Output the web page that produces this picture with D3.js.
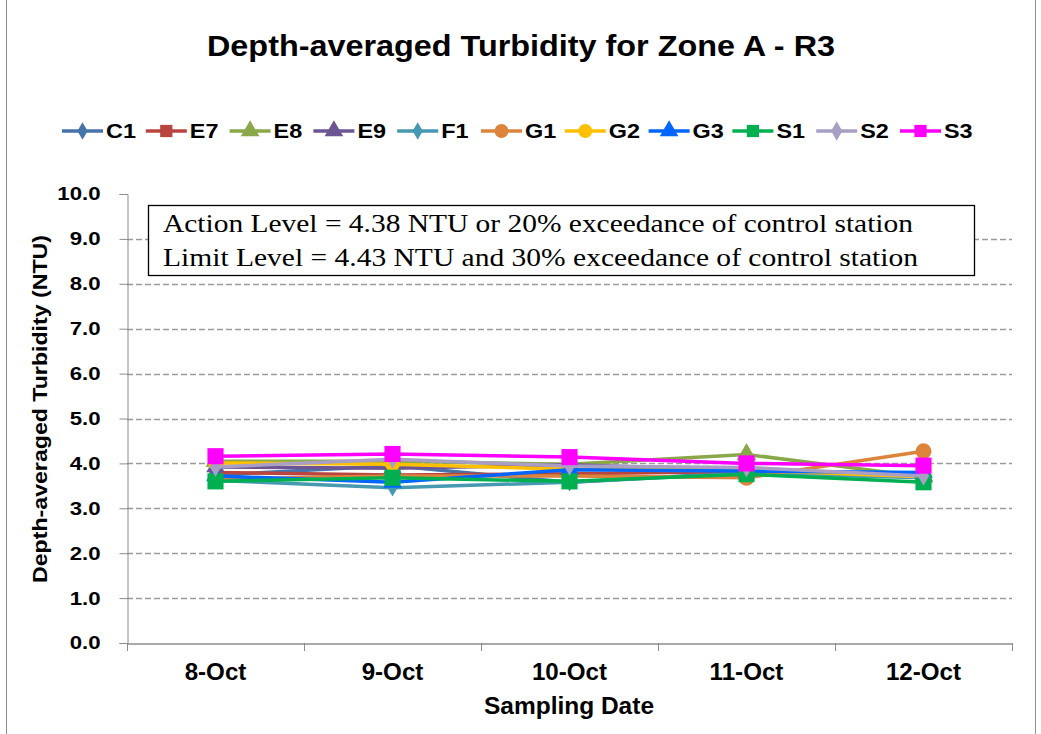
<!DOCTYPE html>
<html>
<head>
<meta charset="utf-8">
<script src="https://cdn.jsdelivr.net/npm/d3@7"></script>
<style>
  body { margin: 0; background: #fff; }
  svg { display: block; }
</style>
</head>
<body>
<div id="chart"></div>
<script>
// values
const dates = ['8-Oct', '9-Oct', '10-Oct', '11-Oct', '12-Oct'];
const stations = ['C1', 'E7', 'E8', 'E9', 'F1', 'G1', 'G2', 'G3', 'S1', 'S2', 'S3'];
const C1 = [3.74, 3.95, 3.58, 3.80, 3.75];
const E7 = [3.80, 3.74, 3.77, 3.82, 3.73];
const E8 = [4.05, 4.05, 3.98, 4.20, 3.70];
const E9 = [3.92, 3.89, 3.97, 3.85, 3.72];
const F1 = [3.62, 3.46, 3.58, 3.78, 3.68];
const G1 = [3.65, 3.72, 3.72, 3.68, 4.27];
const G2 = [4.01, 3.98, 3.87, 3.85, 3.70];
const G3 = [3.72, 3.58, 3.86, 3.83, 3.80];
const S1 = [3.60, 3.68, 3.60, 3.76, 3.58];
const S2 = [3.92, 4.09, 3.94, 3.91, 3.72];
const S3 = [4.16, 4.21, 4.14, 4.00, 3.95];
const yTicks = [0, 1, 2, 3, 4, 5, 6, 7, 8, 9, 10];
const notes = ['Action Level = 4.38 NTU or 20% exceedance of control station',
               'Limit Level = 4.43 NTU and 30% exceedance of control station'];

const values = { C1, E7, E8, E9, F1, G1, G2, G3, S1, S2, S3 };
const colors = {
  C1: '#4673a9', E7: '#b8463f', E8: '#8aa84a', E9: '#6d5594', F1: '#4599b0',
  G1: '#dc843c', G2: '#ffc000', G3: '#0066ff', S1: '#00b050', S2: '#a99fc5', S3: '#ff00ff'
};
const shapes = {
  C1: 'diamond', E7: 'square', E8: 'triangle', E9: 'triangle', F1: 'diamond',
  G1: 'circle', G2: 'circle', G3: 'triangle', S1: 'square', S2: 'diamond', S3: 'square'
};
const sizes = {
  C1: 90, E7: 150, E8: 170, E9: 150, F1: 90, G1: 200, G2: 170, G3: 150, S1: 260, S2: 110, S3: 260
};
const symbolType = {
  diamond: d3.symbolDiamond, square: d3.symbolSquare,
  triangle: d3.symbolTriangle, circle: d3.symbolCircle
};

const width = 1041, height = 734;
const plot = { left: 127, right: 1012, top: 194, bottom: 643 };
const sans = 'Liberation Sans, Arial, sans-serif';

// the reference text is drawn a bit wider than the font, so stretch it
function stretch(sel, k) {
  sel.each(function () {
    const w = this.getComputedTextLength();
    d3.select(this).attr('textLength', w * k).attr('lengthAdjust', 'spacingAndGlyphs');
  });
}

const svg = d3.select('#chart').append('svg')
  .attr('width', width)
  .attr('height', height)
  .style('font-family', sans);

// outer chart frame
svg.append('rect')
  .attr('x', 6.5).attr('y', -2).attr('width', 1029).attr('height', height + 4)
  .attr('fill', 'none').attr('stroke', '#8c8c8c').attr('stroke-width', 1);

svg.append('text')
  .attr('x', 521).attr('y', 56)
  .attr('text-anchor', 'middle')
  .attr('font-size', 29).attr('font-weight', 'bold')
  .attr('textLength', 628).attr('lengthAdjust', 'spacingAndGlyphs')
  .text('Depth-averaged  Turbidity for Zone A - R3');

const x = d3.scaleBand().domain(dates).range([plot.left, plot.right]);
const y = d3.scaleLinear().domain([0, 10]).range([plot.bottom, plot.top]);

// gridlines
svg.append('g')
  .selectAll('line')
  .data(yTicks.filter(t => t > 0 && t < 10))
  .join('line')
  .attr('x1', plot.left).attr('x2', plot.right)
  .attr('y1', d => Math.round(y(d)) + 0.5).attr('y2', d => Math.round(y(d)) + 0.5)
  .attr('stroke', '#9a9a9a').attr('stroke-width', 1.3)
  .attr('stroke-dasharray', '6,3');

// y axis
const yAxis = svg.append('g')
  .attr('transform', `translate(${plot.left + 0.5},0)`)
  .call(d3.axisLeft(y).tickValues(yTicks).tickFormat(d3.format('.1f')).tickSize(8).tickPadding(19));
yAxis.select('.domain').attr('stroke', '#8c8c8c');
yAxis.selectAll('.tick line').attr('stroke', '#8c8c8c');
yAxis.selectAll('text')
  .attr('font-size', 18.5).attr('font-weight', 'bold')
  .attr('font-family', sans).attr('fill', '#000')
  .call(stretch, 1.2);

// x axis
const xAxis = svg.append('g')
  .attr('transform', `translate(0,${plot.bottom + 0.5})`)
  .call(d3.axisBottom(x).tickSize(0).tickPadding(20));
xAxis.select('.domain').attr('stroke', '#8c8c8c').attr('stroke-width', 1.3);
xAxis.selectAll('text')
  .attr('font-size', 23).attr('font-weight', 'bold')
  .attr('font-family', sans).attr('fill', '#000')
  .call(stretch, 1.05);
svg.append('g')
  .selectAll('line')
  .data(dates.concat(['end']))
  .join('line')
  .attr('x1', (d, i) => Math.round(plot.left + i * x.bandwidth()) + 0.5)
  .attr('x2', (d, i) => Math.round(plot.left + i * x.bandwidth()) + 0.5)
  .attr('y1', plot.bottom).attr('y2', plot.bottom + 8)
  .attr('stroke', '#8c8c8c');

svg.append('text')
  .attr('x', 569).attr('y', 714)
  .attr('text-anchor', 'middle')
  .attr('font-size', 24).attr('font-weight', 'bold')
  .attr('textLength', 170).attr('lengthAdjust', 'spacingAndGlyphs')
  .text('Sampling Date');

svg.append('text')
  .attr('transform', 'translate(47,409) rotate(-90)')
  .attr('text-anchor', 'middle')
  .attr('font-size', 20).attr('font-weight', 'bold')
  .attr('textLength', 348).attr('lengthAdjust', 'spacingAndGlyphs')
  .text('Depth-averaged Turbidity (NTU)');

// note box
svg.append('rect')
  .attr('x', 148.5).attr('y', 205.5).attr('width', 826).attr('height', 70)
  .attr('fill', '#fff').attr('stroke', '#000').attr('stroke-width', 1.3);
svg.append('g')
  .selectAll('text')
  .data(notes)
  .join('text')
  .attr('x', 163).attr('y', (d, i) => 232 + i * 33.5)
  .attr('font-family', 'Liberation Serif, Times New Roman, serif')
  .attr('font-size', 25)
  .attr('textLength', (d, i) => i === 0 ? 750 : 755)
  .attr('lengthAdjust', 'spacingAndGlyphs')
  .text(d => d);

// series
const line = d3.line()
  .x((d, i) => x(dates[i]) + x.bandwidth() / 2)
  .y(d => y(d));

stations.forEach(s => {
  const g = svg.append('g');
  g.append('path')
    .attr('d', line(values[s]))
    .attr('fill', 'none')
    .attr('stroke', colors[s])
    .attr('stroke-width', 3.5);
  g.selectAll('path.m')
    .data(values[s])
    .join('path')
    .attr('class', 'm')
    .attr('transform', (d, i) => `translate(${x(dates[i]) + x.bandwidth() / 2},${y(d)})`)
    .attr('d', d3.symbol().type(symbolType[shapes[s]]).size(sizes[s]))
    .attr('fill', colors[s]);
});

// legend
const legend = svg.append('g').attr('transform', 'translate(62,131)');
const item = legend.selectAll('g')
  .data(stations)
  .join('g')
  .attr('transform', (d, i) => `translate(${i * 83.8},0)`);
item.append('line')
  .attr('x1', 0).attr('x2', 41)
  .attr('stroke', d => colors[d]).attr('stroke-width', 3.5);
item.append('path')
  .attr('transform', 'translate(20.5,0)')
  .attr('d', d => d3.symbol().type(symbolType[shapes[d]]).size(Math.min(sizes[d], 150))())
  .attr('fill', d => colors[d]);
item.append('text')
  .attr('x', 44).attr('y', 7)
  .attr('font-size', 19.5).attr('font-weight', 'bold')
  .text(d => d)
  .call(stretch, 1.2);
</script>
</body>
</html>
